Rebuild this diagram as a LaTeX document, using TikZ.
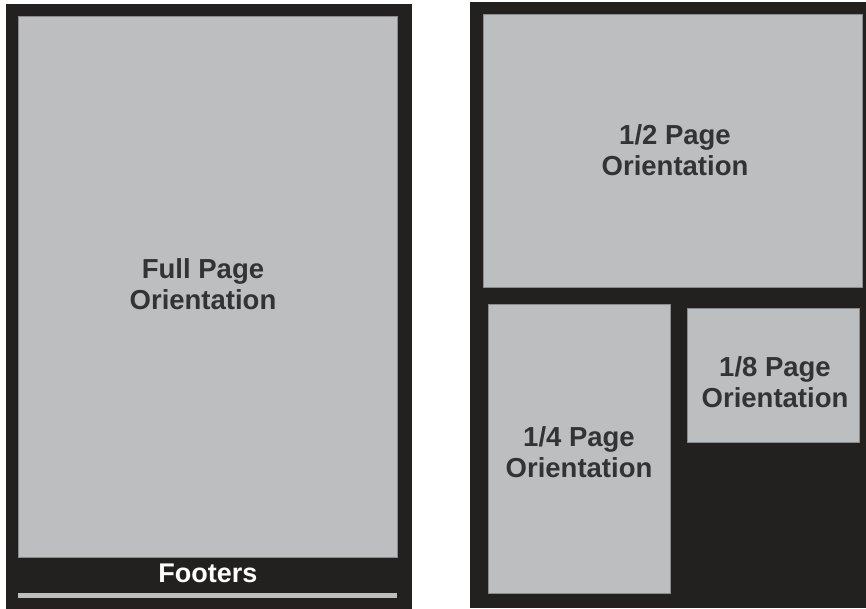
\documentclass[tikz,border=0pt]{standalone}
\usepackage{fontspec}
\setmainfont{Liberation Sans}
\definecolor{darkfill}{HTML}{222120}
\definecolor{grayfill}{HTML}{BDBEC0}
\definecolor{grayedge}{HTML}{8A8B8D}
\definecolor{txtgray}{HTML}{333333}
\tikzset{
  panel/.style={fill=darkfill, draw=none},
  pagebox/.style={fill=grayfill, draw=grayedge, line width=0.8pt},
  lbl/.style={align=center, font=\fontsize{27.5}{31}\selectfont\bfseries, text=txtgray, inner sep=0pt},
  footlbl/.style={font=\fontsize{27}{31}\selectfont\bfseries, text=white, inner sep=0pt}
}
\begin{document}
\begin{tikzpicture}[x=1pt,y=-1pt]
\useasboundingbox (0,0) rectangle (866,609);
% left panel
\fill[panel] (6,4) rectangle (412,609);
\draw[pagebox] (18,16) rectangle (397,557);
\fill[grayfill] (18,593) rectangle (397,598);
\node[lbl] (full) at (203,284) {Full Page\\Orientation};
\node[footlbl] (foot) at (208,573) {Footers};
% right panel
\fill[panel] (470,2) rectangle (866,608);
\draw[pagebox] (483,14) rectangle (862,287);
\draw[pagebox] (488,304) rectangle (670,593);
\draw[pagebox] (687,308) rectangle (859,442);
\node[lbl] (half) at (675,150) {1/2 Page\\Orientation};
\node[lbl] (quarter) at (579,452) {1/4 Page\\Orientation};
\node[lbl] (eighth) at (775,382) {1/8 Page\\Orientation};
\end{tikzpicture}
\end{document}
